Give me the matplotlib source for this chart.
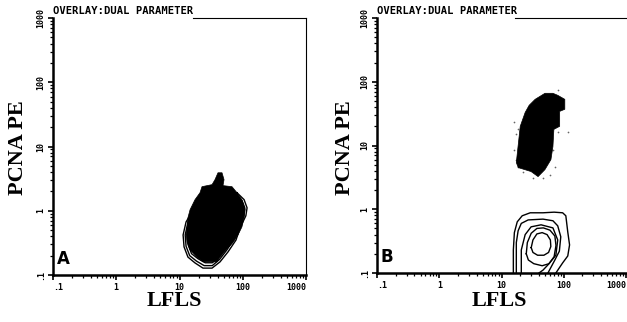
import matplotlib.pyplot as plt
from matplotlib.ticker import LogLocator, NullFormatter

# log decade ticks shared by both axes
decades = [0.1, 1, 10, 100, 1000]
decade_labels = ['.1', '1', '10', '100', '1000']

# panel A: dense dot region (LFLS, PCNA PE) outline
a_blob = [(40.6, 3.9), (47, 3.9), (50.6, 3.05), (48.7, 2.46), (67.6, 2.37), (81, 1.91),
          (97, 1.49), (109, 1.04), (105, 0.78), (97, 0.56), (84.1, 0.42), (70, 0.32),
          (54.3, 0.246), (43.7, 0.19), (39.2, 0.16), (23.5, 0.16), (18.9, 0.19),
          (14.7, 0.246), (13.2, 0.32), (12.7, 0.42), (13.2, 0.56), (13.6, 0.78),
          (14.7, 1.04), (17.6, 1.49), (21.1, 1.91), (22.7, 2.37), (32.7, 2.55), (36.4, 3.05)]

# panel A: contour levels, outer to inner
a_contours = [
    [(81, 1.91), (105, 1.49), (117, 1.11), (112, 0.835), (90.5, 0.54), (78.2, 0.35),
     (58.5, 0.229), (43.7, 0.16), (32.7, 0.128), (23.5, 0.128), (17.6, 0.154), (13.6, 0.19),
     (11.8, 0.274), (11.4, 0.42), (12.7, 0.67), (15.8, 0.96), (21.1, 1.33), (32.7, 1.65),
     (52.4, 1.91)],
    [(78, 1.75), (98, 1.42), (108, 1.1), (104, 0.84), (85, 0.56), (74, 0.37), (56, 0.245),
     (43, 0.175), (33, 0.14), (24.5, 0.14), (18.5, 0.165), (14.5, 0.2), (12.7, 0.28),
     (12.3, 0.42), (13.6, 0.66), (16.8, 0.93), (22, 1.27), (33, 1.55), (52, 1.76)],
    [(75, 1.6), (92, 1.35), (100, 1.08), (96, 0.84), (80, 0.58), (70, 0.39), (54, 0.26),
     (42, 0.19), (33, 0.155), (25.5, 0.155), (19.5, 0.18), (15.5, 0.215), (13.8, 0.29),
     (13.3, 0.43), (14.6, 0.65), (17.8, 0.9), (23, 1.2), (33, 1.45), (51, 1.62)],
    [(72, 1.45), (86, 1.28), (93, 1.05), (89, 0.83), (76, 0.6), (66, 0.41), (52, 0.28),
     (41, 0.21), (33, 0.17), (26.5, 0.17), (20.5, 0.195), (16.6, 0.23), (15, 0.3),
     (14.5, 0.44), (15.8, 0.65), (19, 0.88), (24, 1.15), (34, 1.36), (50, 1.48)],
]

# panel B: dense dot region outline and loose dots around it
b_blob = [(34.7, 53), (49.9, 65.9), (67, 65.9), (80, 61.3), (104, 53), (104, 37), (86, 34.3),
          (86, 20), (69.4, 17.9), (67, 9.6), (62.2, 6.0), (49.9, 4.19), (38.7, 3.25),
          (29.9, 3.9), (18.6, 4.5), (17.3, 5.4), (18.6, 10.4), (20, 20), (24, 33), (27.8, 42.7)]
b_specks = [(16.1, 23), (17.3, 14.9), (16.1, 8.65), (17.3, 6.0), (18.6, 4.67), (22.3, 3.9),
            (32.2, 3.13), (46.4, 3.13), (60, 3.49), (72, 4.67), (80, 16), (116, 16),
            (20, 11), (18.6, 18), (66, 8.65), (80, 73.5)]

# panel B: contour levels, the outer three open at the bottom axis
b_contours = [
    [(15.5, 0.1), (15.5, 0.23), (16.1, 0.43), (17.9, 0.635), (21.5, 0.79), (28.9, 0.88),
     (46.4, 0.88), (70, 0.9), (96, 0.88), (108, 0.79), (116, 0.44), (124, 0.276),
     (116, 0.185), (96, 0.144), (74.7, 0.1)],
    [(17.3, 0.1), (17.3, 0.3), (18.5, 0.46), (20.8, 0.6), (26.8, 0.68), (46.4, 0.7),
     (67, 0.66), (80, 0.55), (89.6, 0.37), (85, 0.22), (72, 0.16), (55.7, 0.1)],
    [(20.8, 0.1), (20.8, 0.23), (24, 0.40), (29.9, 0.53), (43.2, 0.57), (67, 0.51),
     (80, 0.33), (74.7, 0.19), (55.7, 0.134), (46.4, 0.111), (40, 0.1)],
    [(25, 0.2), (26, 0.3), (30, 0.42), (37, 0.5), (47, 0.51), (60, 0.47), (72, 0.38),
     (75, 0.27), (70, 0.18), (58, 0.14), (45, 0.13), (33, 0.14), (27, 0.16), (25, 0.2)],
    [(30, 0.25), (32, 0.33), (37, 0.41), (45, 0.43), (54, 0.40), (61, 0.33), (62, 0.26),
     (57, 0.21), (48, 0.19), (38, 0.19), (32, 0.21), (30, 0.25)],
]


def setup(ax, letter):
    ax.set_xscale('log')
    ax.set_yscale('log')
    ax.set_xlim(0.1, 1000)
    ax.set_ylim(0.1, 1000)
    ax.set_xticks(decades)
    ax.set_xticklabels(decade_labels)
    ax.set_yticks(decades)
    ax.set_yticklabels(decade_labels, rotation=90, va='center')
    for axis in (ax.xaxis, ax.yaxis):
        axis.set_minor_locator(LogLocator(base=10, subs=range(2, 10)))
        axis.set_minor_formatter(NullFormatter())
    ax.tick_params(which='major', direction='out', length=3.5, width=1.2, pad=2)
    ax.tick_params(which='minor', direction='out', length=2.5, width=0.9)
    for lab in ax.get_xticklabels() + ax.get_yticklabels():
        lab.set_fontfamily('DejaVu Sans Mono')
        lab.set_fontweight('bold')
        lab.set_fontsize(6)
    xlabs = ax.get_xticklabels()
    xlabs[0].set_horizontalalignment('left')
    xlabs[-1].set_horizontalalignment('right')
    ax.spines['left'].set_linewidth(1.8)
    ax.spines['bottom'].set_linewidth(1.8)
    ax.spines['right'].set_linewidth(0.8)
    ax.spines['top'].set_visible(False)
    ax.plot([0.555, 1], [1, 1], transform=ax.transAxes, color='black', lw=0.8, clip_on=False)
    ax.text(0, 1.006, 'OVERLAY:DUAL PARAMETER', transform=ax.transAxes,
            fontfamily='DejaVu Sans Mono', fontweight='bold', fontsize=7.6, va='bottom')
    ax.text(0.016, 0.027, letter, transform=ax.transAxes, fontfamily='DejaVu Sans',
            fontweight='bold', fontsize=12, ha='left', va='bottom')


def draw_shape(ax, pts, closed=True, **kw):
    xs = [p[0] for p in pts]
    ys = [p[1] for p in pts]
    if closed:
        xs.append(xs[0])
        ys.append(ys[0])
    ax.plot(xs, ys, color='black', **kw)


def fill_shape(ax, pts):
    ax.fill([p[0] for p in pts], [p[1] for p in pts], color='black', lw=0.5, zorder=3)


fig = plt.figure(figsize=(6.27, 3.22), dpi=100)
ax_a = fig.add_axes([53 / 627, 47 / 322, 253 / 627, 257 / 322])
ax_b = fig.add_axes([377 / 627, 49 / 322, 249 / 627, 255 / 322])

setup(ax_a, 'A')
setup(ax_b, 'B')
# panel B is cropped at the page edge, its right frame is not shown
ax_b.spines['right'].set_visible(False)

for c in a_contours:
    draw_shape(ax_a, c, lw=1.0, zorder=2)
fill_shape(ax_a, a_blob)

fill_shape(ax_b, b_blob)
ax_b.scatter([p[0] for p in b_specks], [p[1] for p in b_specks], s=1.5, color='0.4', lw=0)
for c in b_contours:
    draw_shape(ax_b, c, closed=(c[0] == c[-1]), lw=1.0, zorder=2)

serif = dict(fontfamily='Liberation Serif', fontweight='bold', fontsize=16)
fig.text(18 / 627, 1 - 148 / 322, 'PCNA PE', rotation=90, ha='center', va='center', **serif)
fig.text(345 / 627, 1 - 148 / 322, 'PCNA PE', rotation=90, ha='center', va='center', **serif)
fig.text(174 / 627, 1 - 301 / 322, 'LFLS', ha='center', va='center', **serif)
fig.text(499 / 627, 1 - 301 / 322, 'LFLS', ha='center', va='center', **serif)

fig.savefig('out.png', dpi=100)
plt.close(fig)
